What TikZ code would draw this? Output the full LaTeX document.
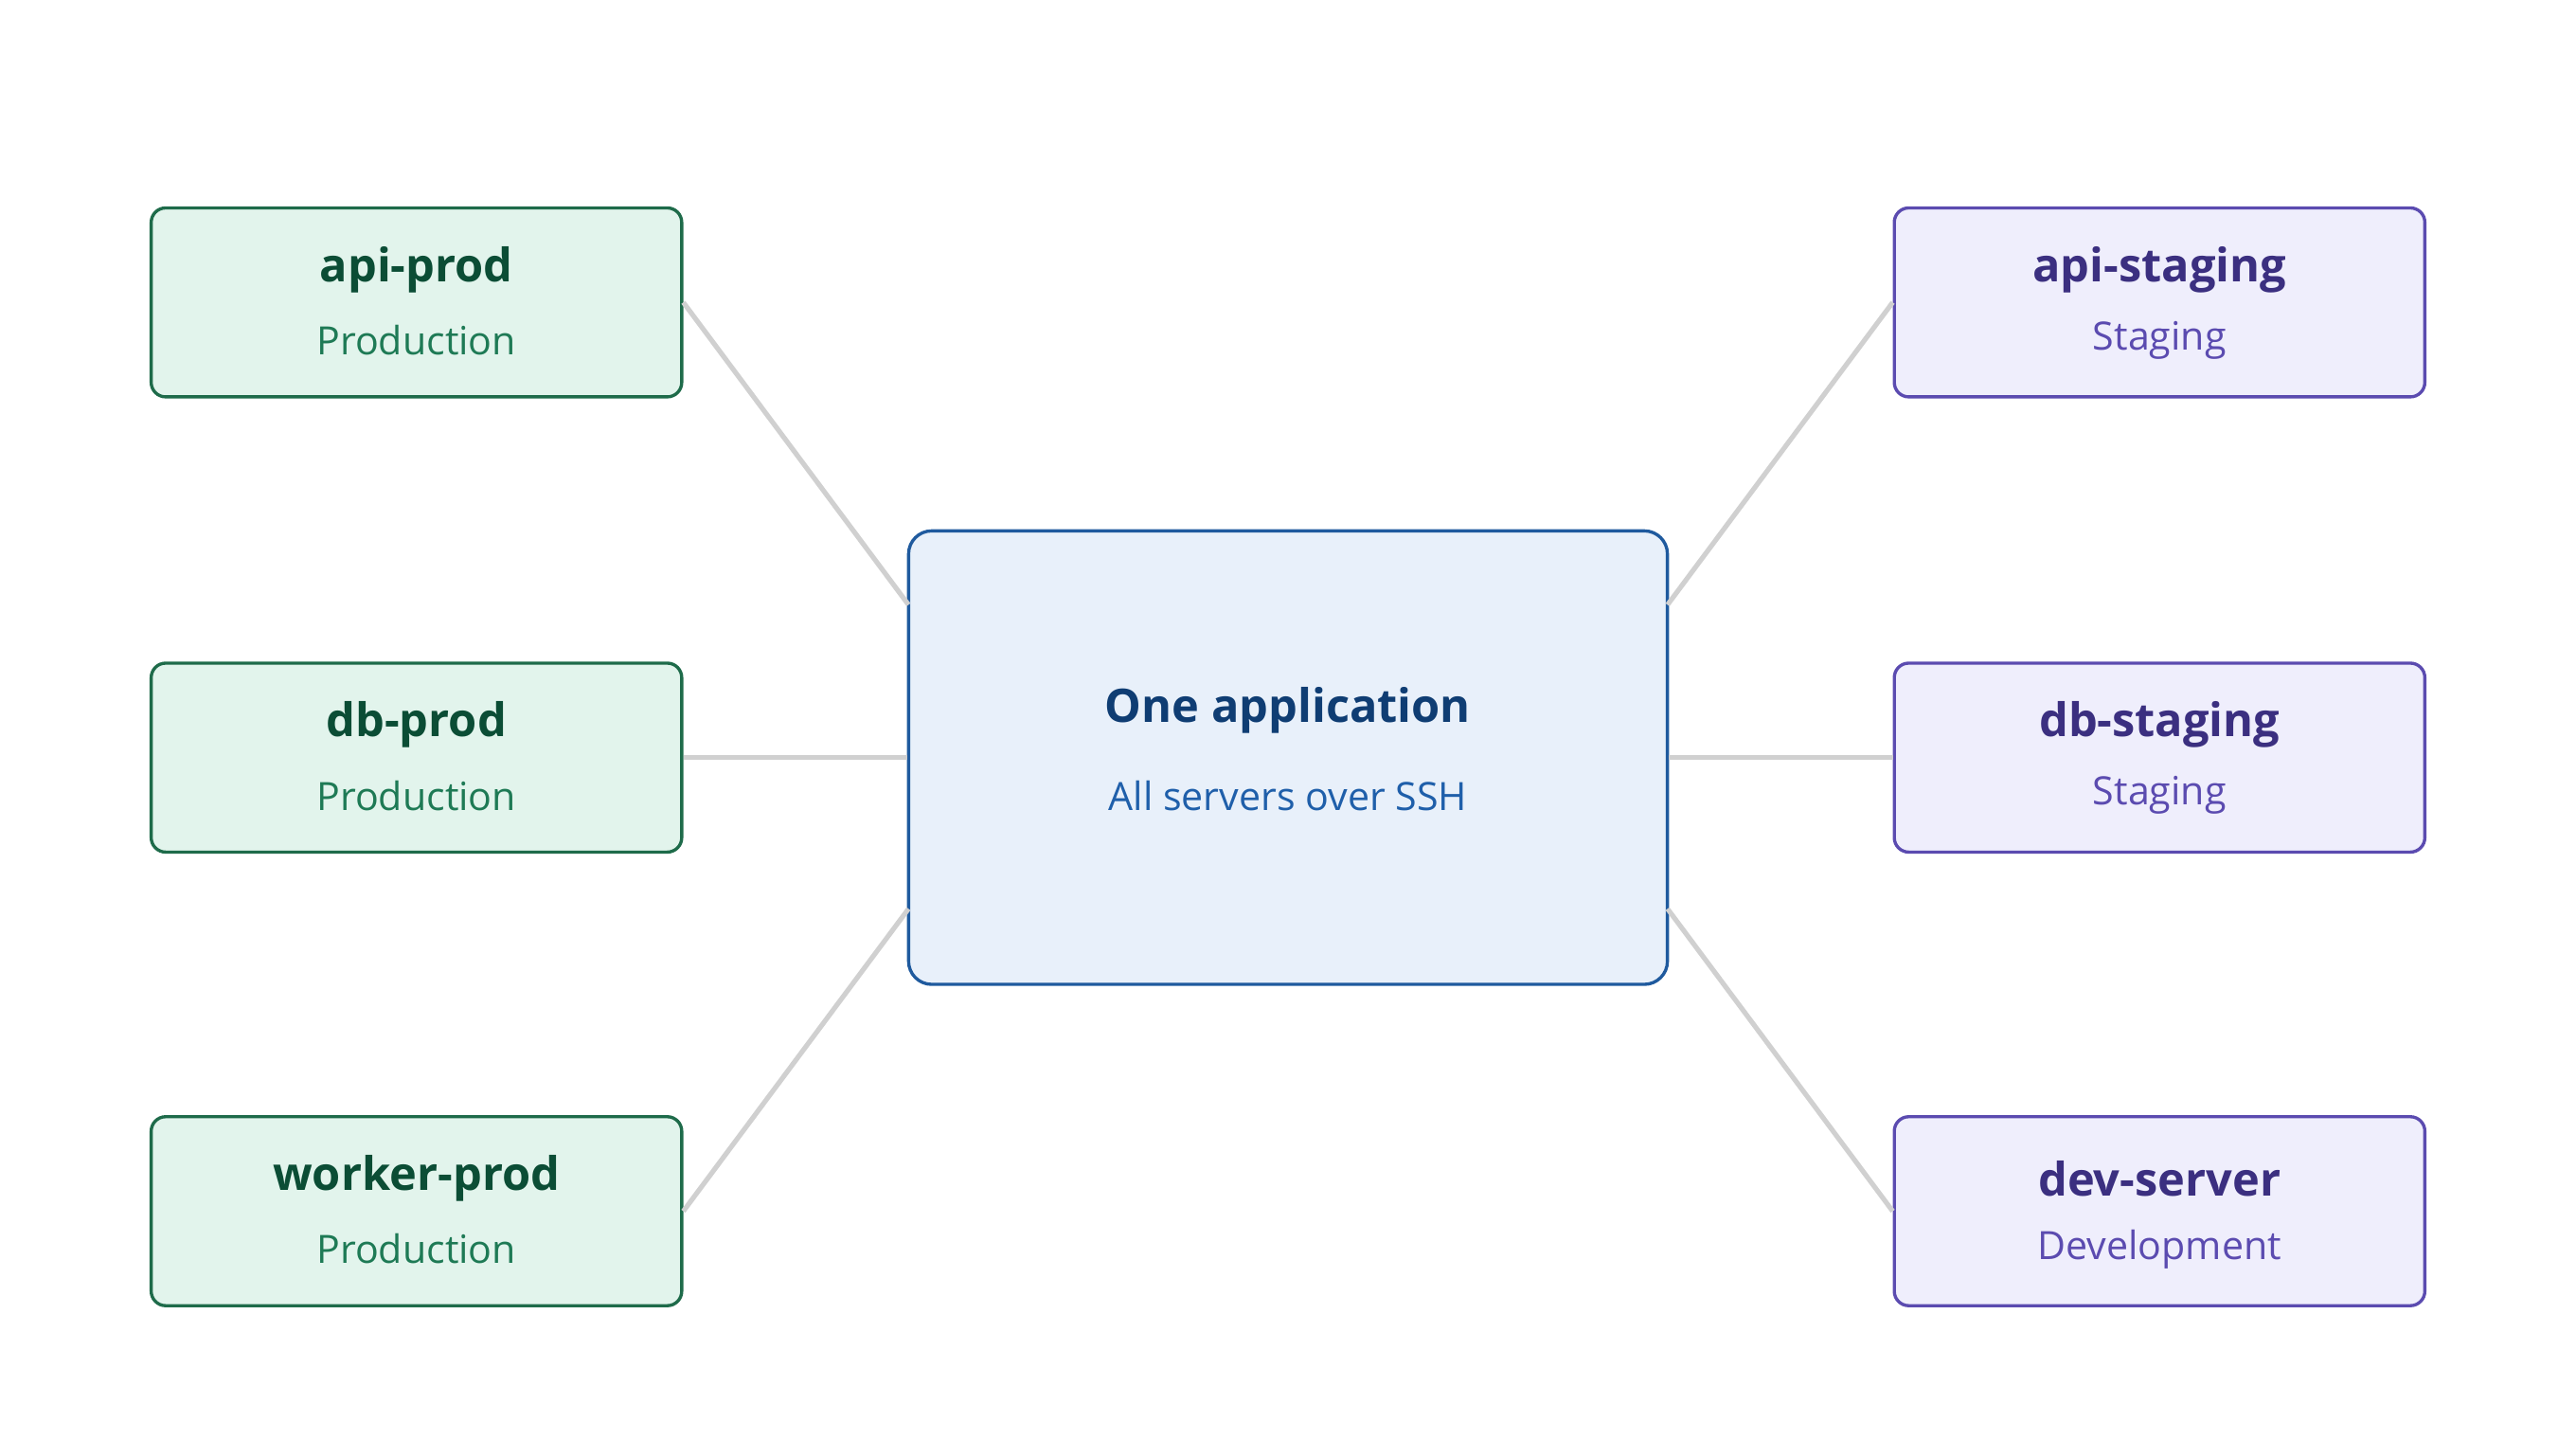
\documentclass[tikz,border=0pt]{standalone}
\usepackage{fontspec}
\setmainfont{Open Sans}
\definecolor{gfill}{HTML}{E2F4EC}\definecolor{gdraw}{HTML}{1E6B4A}
\definecolor{gtitle}{HTML}{0B4D35}\definecolor{gsub}{HTML}{1E7A55}
\definecolor{pfill}{HTML}{EFEEFC}\definecolor{pdraw}{HTML}{5B4BB0}
\definecolor{ptitle}{HTML}{3B2F80}\definecolor{psub}{HTML}{5B4BB0}
\definecolor{cfill}{HTML}{E8F0FA}\definecolor{cdraw}{HTML}{1F5A9E}
\definecolor{ctitle}{HTML}{0F3D73}\definecolor{csub}{HTML}{1F5FAA}
\definecolor{link}{HTML}{D0D0D0}
\begin{document}
\begin{tikzpicture}[x=0.02cm,y=-0.02cm,
  box/.style={rectangle,rounded corners=5pt,line width=1.1pt,minimum width=6.46cm,minimum height=2.3cm,inner sep=0pt,align=center},
  gbox/.style={box,fill=gfill,draw=gdraw},
  pbox/.style={box,fill=pfill,draw=pdraw},
  gt/.style={font=\fontsize{16}{19}\selectfont\bfseries,text=gtitle},
  gs/.style={font=\fontsize{13.5}{16}\selectfont,text=gsub},
  pt/.style={font=\fontsize{16}{19}\selectfont\bfseries,text=ptitle},
  ps/.style={font=\fontsize{13.5}{16}\selectfont,text=psub},
  link/.style={draw=link,line width=1.7pt}]
\useasboundingbox (0,0) rectangle (1568,876);
\node[box,fill=cfill,draw=cdraw,minimum width=9.24cm,minimum height=5.52cm,rounded corners=8pt] (c) at (784,461) {};
\node[font=\fontsize{16}{19}\selectfont\bfseries,text=ctitle] (ct) at (784,432) {One application};
\node[font=\fontsize{13.5}{16}\selectfont,text=csub] (cs) at (784,484) {All servers over SSH};
\foreach \n/\y/\t/\s in {a/184/api-prod/Production,b/461/db-prod/Production,w/737/worker-prod/Production}{
  \node[gbox] (\n) at (253.5,\y) {};
  \node[gt] at (253.5,\y-20) {\t};
  \node[gs] at (253.5,\y+23) {\s};
}
\foreach \n/\y/\t/\s in {as/184/api-staging/Staging,bs/461/db-staging/Staging,d/737/dev-server/Development}{
  \node[pbox] (\n) at (1314.5,\y) {};
  \node[pt] at (1314.5,\y-20) {\t};
  \node[ps] at (1314.5,\y+23) {\s};
}
\coordinate (cl1) at (553,368);\coordinate (cl3) at (553,553);
\coordinate (cr1) at (1015,368);\coordinate (cr3) at (1015,553);
\begin{scope}[on background layer/.style={}]
\end{scope}
\draw[link] (a.east) -- (cl1);
\draw[link] (b.east) -- (c.west);
\draw[link] (w.east) -- (cl3);
\draw[link] (as.west) -- (cr1);
\draw[link] (bs.west) -- (c.east);
\draw[link] (d.west) -- (cr3);
\end{tikzpicture}
\end{document}
